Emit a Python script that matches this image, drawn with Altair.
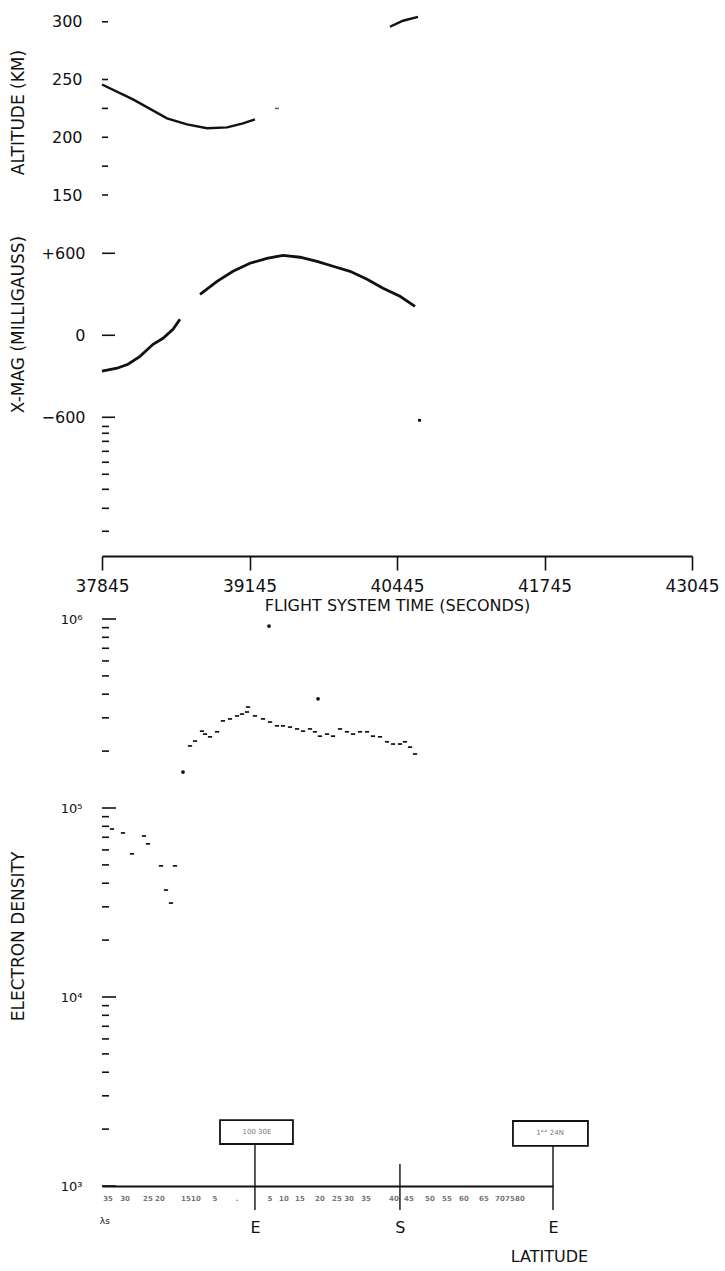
import altair as alt
import pandas as pd

INK = "#111111"
FONT = "DejaVu Sans"

# ---------------- shared time axis (flight system time, s) ----------------
time_ticks = [37845, 39145, 40445, 41745, 43045]

# ---------------- altitude (km) ----------------
alt_time_a = [37845, 38118, 38418, 38594, 38771, 38947, 39088, 39193]
alt_km_a = [245.7, 232.8, 216.4, 211.2, 207.8, 208.6, 212.1, 215.5]
alt_time_b = [40383, 40498, 40630]
alt_km_b = [295.7, 300.9, 304.3]
alt_dot_time = [39387]
alt_dot_km = [225]
alt_labels = [300, 250, 200, 150]
alt_ticks = [300, 250, 225, 200, 175, 150]

# ---------------- x-magnetometer (milligauss) ----------------
mag_time_a = [37845, 37977, 38074, 38180, 38295, 38383, 38471, 38532]
mag_mg_a = [-263, -241, -212, -154, -66, -22, 44, 117]
mag_time_b = [38709, 38859, 39000, 39149, 39299, 39440, 39590, 39740,
              39881, 40031, 40181, 40322, 40471, 40604]
mag_mg_b = [300, 395, 468, 527, 563, 585, 571, 541, 505, 468, 410, 344, 285, 212]
mag_time_c = [40630, 40657]
mag_mg_c = [-622, -622]
mag_labels = [600, 0, -600]
mag_minor = [-667, -717, -776, -849, -929, -1017, -1127, -1266, -1434]

# ---------------- electron density (per cc) ----------------
den_time = [37933, 38030, 38109, 38215, 38250, 38365, 38488, 38409, 38453,
            38621, 38665, 38726, 38753, 38797, 38859, 38911, 38973, 39035,
            39079, 39123, 39132,
            39193, 39264, 39326, 39387, 39440, 39502, 39564, 39617, 39678,
            39722, 39766, 39828, 39881, 39943, 40004, 40057, 40119, 40181,
            40233, 40295, 40357, 40410, 40471, 40515, 40560, 40604]
den_value = [77400, 73800, 57200, 71100, 64600, 49400, 49400, 36800, 31400,
             213000, 226000, 255000, 246000, 238000, 253000, 289000, 296000, 307000,
             314000, 322000, 342000,
             307000, 296000, 285000, 272000, 272000, 268000, 262000, 255000, 262000,
             253000, 240000, 246000, 240000, 262000, 253000, 246000, 253000, 253000,
             240000, 238000, 224000, 218000, 218000, 224000, 210000, 193000]
den_big_time = [38559, 39317, 39749]
den_big_value = [155000, 918000, 378000]
den_decades = [1000, 10000, 100000, 1000000]
den_decade_labels = ["10³", "10⁴", "10⁵", "10⁶"]
den_minor = [k * 10 ** e for e in (3, 4, 5) for k in range(2, 10)]

# ---------------- latitude markers along the density time axis ----------------
lat_marker_time = [39193, 40471, 41820]
lat_marker_label = ["E", "S", "E"]
lat_marker_top = [1668, 1307, 1629]
lat_marker_bottom = [747, 747, 747]
box_time_start = [38885, 41467]
box_time_end = [39528, 42128]
box_low = [1668, 1629]
box_high = [2232, 2208]
box_text_time = [39211, 41794]
box_text_level = [1940, 1900]
box_text = ["100 30E", "1°° 24N"]
lat_row_time = [37898, 38048, 38250, 38356, 38585, 38673, 38841, 39035,
                39326, 39449, 39590, 39766, 39916, 40022, 40172, 40418,
                40550, 40735, 40885, 41035, 41211, 41352, 41441, 41529]
lat_row_text = ["35", "30", "25", "20", "15", "10", "5", ".",
                "5", "10", "15", "20", "25", "30", "35", "40",
                "45", "50", "55", "60", "65", "70", "75", "80"]
lat_row_level = 850
corner_time = [37870]
corner_level = [650]
corner_text = ["λs"]

W_TOP, H_ALT, H_MAG = 590, 190, 350
W_DEN, H_DEN = 451, 567

time_scale = alt.Scale(domain=[37845, 43045], nice=False, zero=False)
den_time_scale = alt.Scale(domain=[37845, 41820], nice=False, zero=False)


def y_axis(values, title, title_y, label_expr=None, pad=18, size=16):
    kw = dict(values=values, ticks=False, domain=False, grid=False,
              labelPadding=pad, labelFontSize=size, labelColor=INK,
              title=title, titleX=-84, titleY=title_y, titleAngle=-90,
              titleAlign="center", titleBaseline="middle",
              titleFontSize=17, titleFontWeight="normal", titleColor=INK)
    if label_expr:
        kw["labelExpr"] = label_expr
    return alt.Axis(**kw)


def tick_rules(values, scale, axis, length, width=1.6):
    return alt.Chart(pd.DataFrame({"v": values})).mark_rule(
        color=INK, strokeWidth=width
    ).encode(x=alt.value(0), x2=alt.value(length),
             y=alt.Y("v:Q", scale=scale, axis=axis))


# ---------------- altitude panel ----------------
alt_scale = alt.Scale(domain=[140.5, 305], nice=False, zero=False)
alt_axis = y_axis(alt_labels, "ALTITUDE (KM)", 96, pad=20)
alt_df = pd.DataFrame({
    "t": alt_time_a + alt_time_b,
    "km": alt_km_a + alt_km_b,
    "seg": ["a"] * len(alt_time_a) + ["b"] * len(alt_time_b),
})
alt_line = alt.Chart(alt_df).mark_line(color=INK, strokeWidth=2.4).encode(
    x=alt.X("t:Q", scale=time_scale, axis=None),
    y=alt.Y("km:Q", scale=alt_scale, axis=alt_axis),
    detail="seg:N",
)
alt_dot = alt.Chart(pd.DataFrame({"t": alt_dot_time, "km": alt_dot_km})).mark_point(
    shape="M-1,-0.4L1,-0.4L1,0.4L-1,0.4Z", filled=True, color=INK, size=14
).encode(x=alt.X("t:Q", scale=time_scale, axis=None),
         y=alt.Y("km:Q", scale=alt_scale, axis=alt_axis))
panel_alt = alt.layer(
    alt_line, alt_dot, tick_rules(alt_ticks, alt_scale, alt_axis, 6)
).properties(width=W_TOP, height=H_ALT)

# ---------------- x-mag panel ----------------
mag_scale = alt.Scale(domain=[-1615, 946], nice=False, zero=False)
mag_axis = y_axis(mag_labels, "X-MAG (MILLIGAUSS)", 118, pad=17,
                  label_expr="datum.value > 0 ? '+' + datum.value : datum.label")
time_axis = alt.Axis(values=time_ticks, format="d", tickSize=14, tickWidth=1.6,
                     tickColor=INK, domainWidth=2.2, domainColor=INK,
                     labelFontSize=17, labelPadding=8, labelColor=INK,
                     labelFlush=False, labelOverlap=False, grid=False,
                     title="FLIGHT SYSTEM TIME (SECONDS)", titleFontSize=16,
                     titleFontWeight="normal", titleColor=INK, titlePadding=3)
mag_df = pd.DataFrame({
    "t": mag_time_a + mag_time_b + mag_time_c,
    "mg": mag_mg_a + mag_mg_b + mag_mg_c,
    "seg": ["a"] * len(mag_time_a) + ["b"] * len(mag_time_b) + ["c"] * len(mag_time_c),
})
mag_line = alt.Chart(mag_df).mark_line(color=INK, strokeWidth=2.8).encode(
    x=alt.X("t:Q", scale=time_scale, axis=time_axis),
    y=alt.Y("mg:Q", scale=mag_scale, axis=mag_axis),
    detail="seg:N",
)
panel_mag = alt.layer(
    mag_line,
    tick_rules(mag_labels, mag_scale, mag_axis, 13),
    tick_rules(mag_minor, mag_scale, mag_axis, 7),
).properties(width=W_TOP, height=H_MAG)

# ---------------- electron density panel ----------------
den_scale = alt.Scale(type="log", domain=[1000, 1000000], nice=False)
den_expr = "".join(f"datum.value == {v} ? '{l}' : " for v, l in zip(den_decades, den_decade_labels)) + "''"
lat_expr = "".join(f"abs(datum.value - {v}) < 1 ? '{l}' : " for v, l in zip(lat_marker_time, lat_marker_label)) + "''"
den_axis = y_axis(den_decades, "ELECTRON DENSITY", 317, den_expr, pad=20, size=13)
lat_axis = alt.Axis(values=lat_marker_time, labelExpr=lat_expr, ticks=False,
                    domainWidth=2.2, domainColor=INK, labelPadding=33,
                    labelFontSize=16, labelColor=INK, labelFlush=False,
                    grid=False, title="LATITUDE", titleX=447, titleY=70,
                    titleAlign="center", titleBaseline="middle",
                    titleFontSize=16, titleFontWeight="normal", titleColor=INK)
xd = alt.X("t:Q", scale=den_time_scale, axis=lat_axis)

den_pts = alt.Chart(pd.DataFrame({"t": den_time, "n": den_value})).mark_point(
    shape="M-1,-0.4L1,-0.4L1,0.4L-1,0.4Z", filled=True, color=INK, size=18, opacity=1
).encode(x=xd, y=alt.Y("n:Q", scale=den_scale, axis=den_axis))
den_big = alt.Chart(pd.DataFrame({"t": den_big_time, "n": den_big_value})).mark_circle(
    color=INK, size=14, opacity=1
).encode(x=xd, y=alt.Y("n:Q", scale=den_scale, axis=den_axis))

markers = alt.Chart(pd.DataFrame({
    "t": lat_marker_time, "top": lat_marker_top, "bot": lat_marker_bottom
})).mark_rule(color=INK, strokeWidth=1.4).encode(
    x=xd, y=alt.Y("top:Q", scale=den_scale, axis=den_axis), y2="bot:Q")

boxes = alt.Chart(pd.DataFrame({
    "t": box_time_start, "t1": box_time_end, "lo": box_low, "hi": box_high
})).mark_rect(fill="white", stroke=INK, strokeWidth=1.8).encode(
    x=xd, x2="t1:Q",
    y=alt.Y("lo:Q", scale=den_scale, axis=den_axis), y2="hi:Q")

box_labels = alt.Chart(pd.DataFrame({
    "t": box_text_time, "n": box_text_level, "s": box_text
})).mark_text(font=FONT, fontSize=7, color="#777777").encode(
    x=xd, y=alt.Y("n:Q", scale=den_scale, axis=den_axis), text="s:N")

lat_row = alt.Chart(pd.DataFrame({
    "t": lat_row_time, "s": lat_row_text
})).transform_calculate(n=str(lat_row_level)).mark_text(
    font=FONT, fontSize=7, fontWeight="bold", color="#777777"
).encode(x=xd, y=alt.Y("n:Q", scale=den_scale, axis=den_axis), text="s:N")

corner = alt.Chart(pd.DataFrame({
    "t": corner_time, "n": corner_level, "s": corner_text
})).mark_text(font=FONT, fontSize=9, color=INK).encode(
    x=xd, y=alt.Y("n:Q", scale=den_scale, axis=den_axis), text="s:N")

panel_den = alt.layer(
    den_pts, den_big,
    tick_rules(den_decades, den_scale, den_axis, 14),
    tick_rules(den_minor, den_scale, den_axis, 7),
    markers, boxes, box_labels, lat_row, corner,
).properties(width=W_DEN, height=H_DEN)

chart = alt.vconcat(panel_alt, panel_mag, panel_den, spacing=0).properties(
    padding={"left": 8, "top": 12, "right": 0, "bottom": 0},
    background="white",
).configure_view(stroke=None).configure_axis(
    labelFont=FONT, titleFont=FONT
).configure_text(font=FONT)

chart.save("out.html", embed_options={"renderer": "svg", "actions": False})
